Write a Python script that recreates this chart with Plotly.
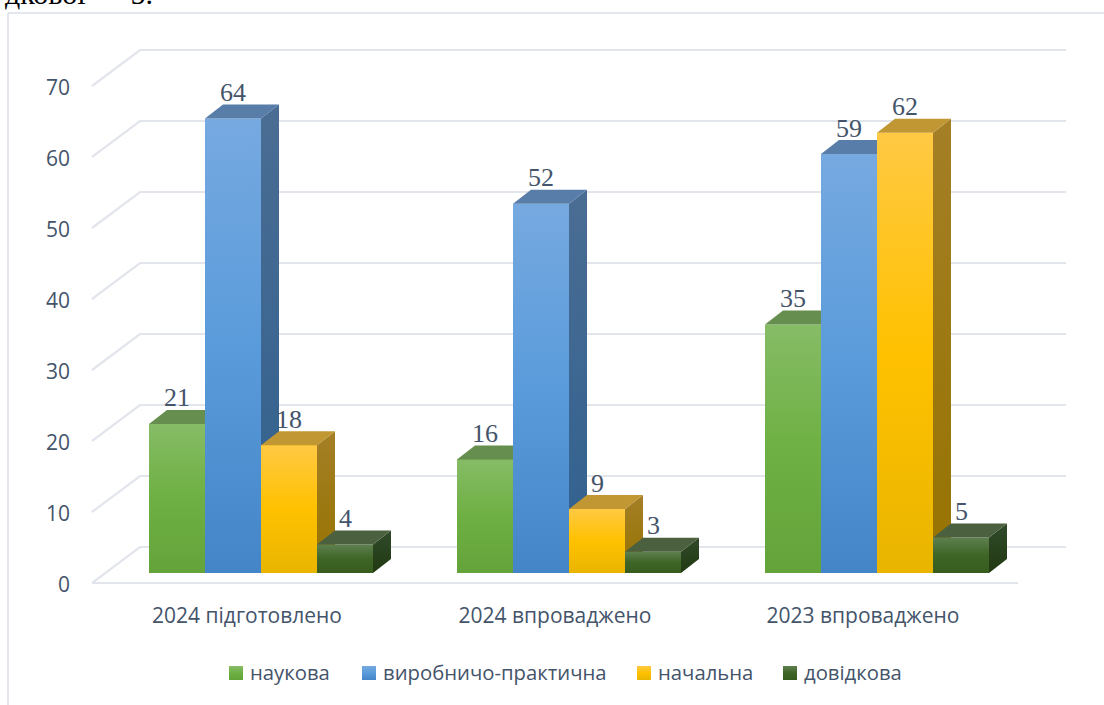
import plotly.graph_objects as go

categories = ["2024 підготовлено", "2024 впроваджено", "2023 впроваджено"]
series_names = ["наукова", "виробничо-практична", "начальна", "довідкова"]
naukova = [21, 16, 35]
vyrobnycho = [64, 52, 59]
nachalna = [18, 9, 62]
dovidkova = [4, 3, 5]
y_ticks = [0, 10, 20, 30, 40, 50, 60, 70]

series_values = [naukova, vyrobnycho, nachalna, dovidkova]
front_colors = [("#86BC66", "#6EB043", "#64A33A"), ("#76A9E0", "#5A9BDB", "#4485C8"),
                ("#FFC943", "#FFC100", "#E9B500"), ("#5E8050", "#3F6526", "#375C1E")]
solid_colors = ["#70AD47", "#5B9BD5", "#FFC000", "#3F6526"]
top_colors = ["#668E4E", "#587DA8", "#C09733", "#4B603F"]
side_colors = [("#5F8A45", "#4F7F30"), ("#4A6D93", "#30608F"), ("#A47F26", "#967300"), ("#30492A", "#213A12")]
legend_swatch_x = [229, 362, 637, 783]
TEXT = "#44546A"
GRID = "#E2E5EC"

# pixel scale of the chart: 1 category = 308 px, 1 value unit = 7.1 px
PX_X, PX_Y = 308.0, 7.1
X0_PX, Y0_PX = 247.0, 583.0
W, H = 1104, 705
L, R, T, B = 71, 1070, 30, 692      # whole plotting area in px
AXIS_B = 600                        # bottom of the main chart in px
LEG_T, LEG_B = 655, 691             # band holding the legend in px
dx = lambda px: px / PX_X
dy = lambda px: px / PX_Y
xpos = lambda px: (px - X0_PX) / PX_X
ypos = lambda px: (Y0_PX - px) / PX_Y
px_paper_x = lambda px: (px - L) / (R - L)
px_paper_y = lambda px: (B - px) / (B - T)

BAR_W = dx(56)
DEPTH_X, DEPTH_Y = dx(18), dy(14)
BASE = dy(10)
SHIFT = dx(14)


def grad(colors):
    n = len(colors) - 1
    return dict(type="vertical", colorscale=[[i / n, c] for i, c in enumerate(reversed(colors))])


fig = go.Figure()

# back wall and floor lines
wx, wy = [], []
for t in y_ticks:
    wx += [xpos(92), xpos(140), xpos(1066), None]
    wy += [t, t + dy(36), t + dy(36), None]
wx += [xpos(92), xpos(1018)]
wy += [0, 0]
fig.add_trace(go.Scatter(x=wx, y=wy, mode="lines", line=dict(color=GRID, width=2.2),
                         hoverinfo="skip", showlegend=False, zorder=0))

for j, (name, vals) in enumerate(zip(series_names, series_values)):
    z = 2 * j + 1
    centers = [i + SHIFT + (j - 1.5) * BAR_W for i in range(len(categories))]
    fig.add_trace(go.Bar(x=centers, y=vals, base=BASE, width=BAR_W, name=name,
                         marker=dict(color=solid_colors[j], line=dict(width=0)), showlegend=False,
                         zorder=z, hovertemplate="%{y}<extra>" + name + "</extra>"))
    for c, v in zip(centers, vals):
        l, r = c - BAR_W / 2, c + BAR_W / 2
        b, t = BASE, BASE + v
        fig.add_trace(go.Scatter(x=[l, r, r, l, l], y=[b, b, t, t, b], mode="none", fill="toself",
                                 fillgradient=grad(front_colors[j]), hoverinfo="skip",
                                 showlegend=False, zorder=z + 1))
        fig.add_trace(go.Scatter(x=[r, r + DEPTH_X, r + DEPTH_X, r, r],
                                 y=[b, b + DEPTH_Y, t + DEPTH_Y, t, b], mode="none", fill="toself",
                                 fillgradient=grad(side_colors[j]), hoverinfo="skip",
                                 showlegend=False, zorder=z + 1))
        fig.add_trace(go.Scatter(x=[l, r, r + DEPTH_X, l + DEPTH_X, l],
                                 y=[t, t, t + DEPTH_Y, t + DEPTH_Y, t], mode="none", fill="toself",
                                 fillcolor=top_colors[j], hoverinfo="skip",
                                 showlegend=False, zorder=z + 1))
        fig.add_annotation(x=c, y=t, xref="x", yref="y", text=str(v), showarrow=False,
                           yanchor="middle", xanchor="center", yshift=26,
                           font=dict(family="Liberation Serif", size=26, color=TEXT))

# legend band: its own small subplot measured in pixels, with gradient swatches like the bars
for j, name in enumerate(series_names):
    x0 = legend_swatch_x[j]
    fig.add_trace(go.Scatter(x=[x0, x0 + 14, x0 + 14, x0, x0], y=[666, 666, 680, 680, 666],
                             mode="none", fill="toself", fillgradient=grad(front_colors[j]),
                             hoverinfo="skip", showlegend=False, xaxis="x2", yaxis="y2"))
    fig.add_annotation(x=x0 + 19, y=672, xref="x2", yref="y2", text=name, showarrow=False,
                       xanchor="left", yanchor="middle", font=dict(size=20.3, color=TEXT))

# clipped line of the surrounding document text
fig.add_annotation(xref="paper", yref="paper", x=px_paper_x(155), y=px_paper_y(12),
                   text="дкової — 5.", showarrow=False, xanchor="right", yanchor="bottom",
                   font=dict(family="Liberation Serif", size=30, color="#000000"))

# outer chart border
fig.add_shape(type="line", xref="paper", yref="paper", x0=px_paper_x(8), x1=px_paper_x(1104),
              y0=px_paper_y(13), y1=px_paper_y(13), line=dict(color="#E3E6EC", width=2))
fig.add_shape(type="line", xref="paper", yref="paper", x0=px_paper_x(8), x1=px_paper_x(8),
              y0=px_paper_y(13), y1=px_paper_y(705), line=dict(color="#E3E6EC", width=2))

fig.update_layout(
    width=W, height=H, autosize=False,
    margin=dict(l=L, r=W - R, t=T, b=H - B, pad=0),
    paper_bgcolor="white", plot_bgcolor="white",
    barmode="overlay", bargap=0, showlegend=False,
    font=dict(family="Open Sans", size=19, color=TEXT),
    xaxis=dict(range=[xpos(L), xpos(R)], tickmode="array", tickvals=list(range(len(categories))),
               ticktext=categories, showgrid=False, zeroline=False, showline=False, ticks="",
               ticklabelstandoff=1, anchor="y", tickfont=dict(size=21, color=TEXT)),
    yaxis=dict(range=[ypos(AXIS_B), ypos(T)], domain=[px_paper_y(AXIS_B), 1], tickmode="array",
               tickvals=y_ticks, showgrid=False, anchor="x", ticklabelshift=2,
               zeroline=False, showline=False, ticks="", tickfont=dict(size=21, color=TEXT)),
    xaxis2=dict(range=[L, R], visible=False, anchor="y2", fixedrange=True),
    yaxis2=dict(range=[LEG_B, LEG_T], domain=[px_paper_y(LEG_B), px_paper_y(LEG_T)], visible=False,
                anchor="x2", fixedrange=True),
    hovermode="closest",
)

post = """
document.body.style.margin = '0';
document.body.style.overflow = 'hidden';
"""
fig.write_html("out.html", post_script=post, config={"displayModeBar": False})
